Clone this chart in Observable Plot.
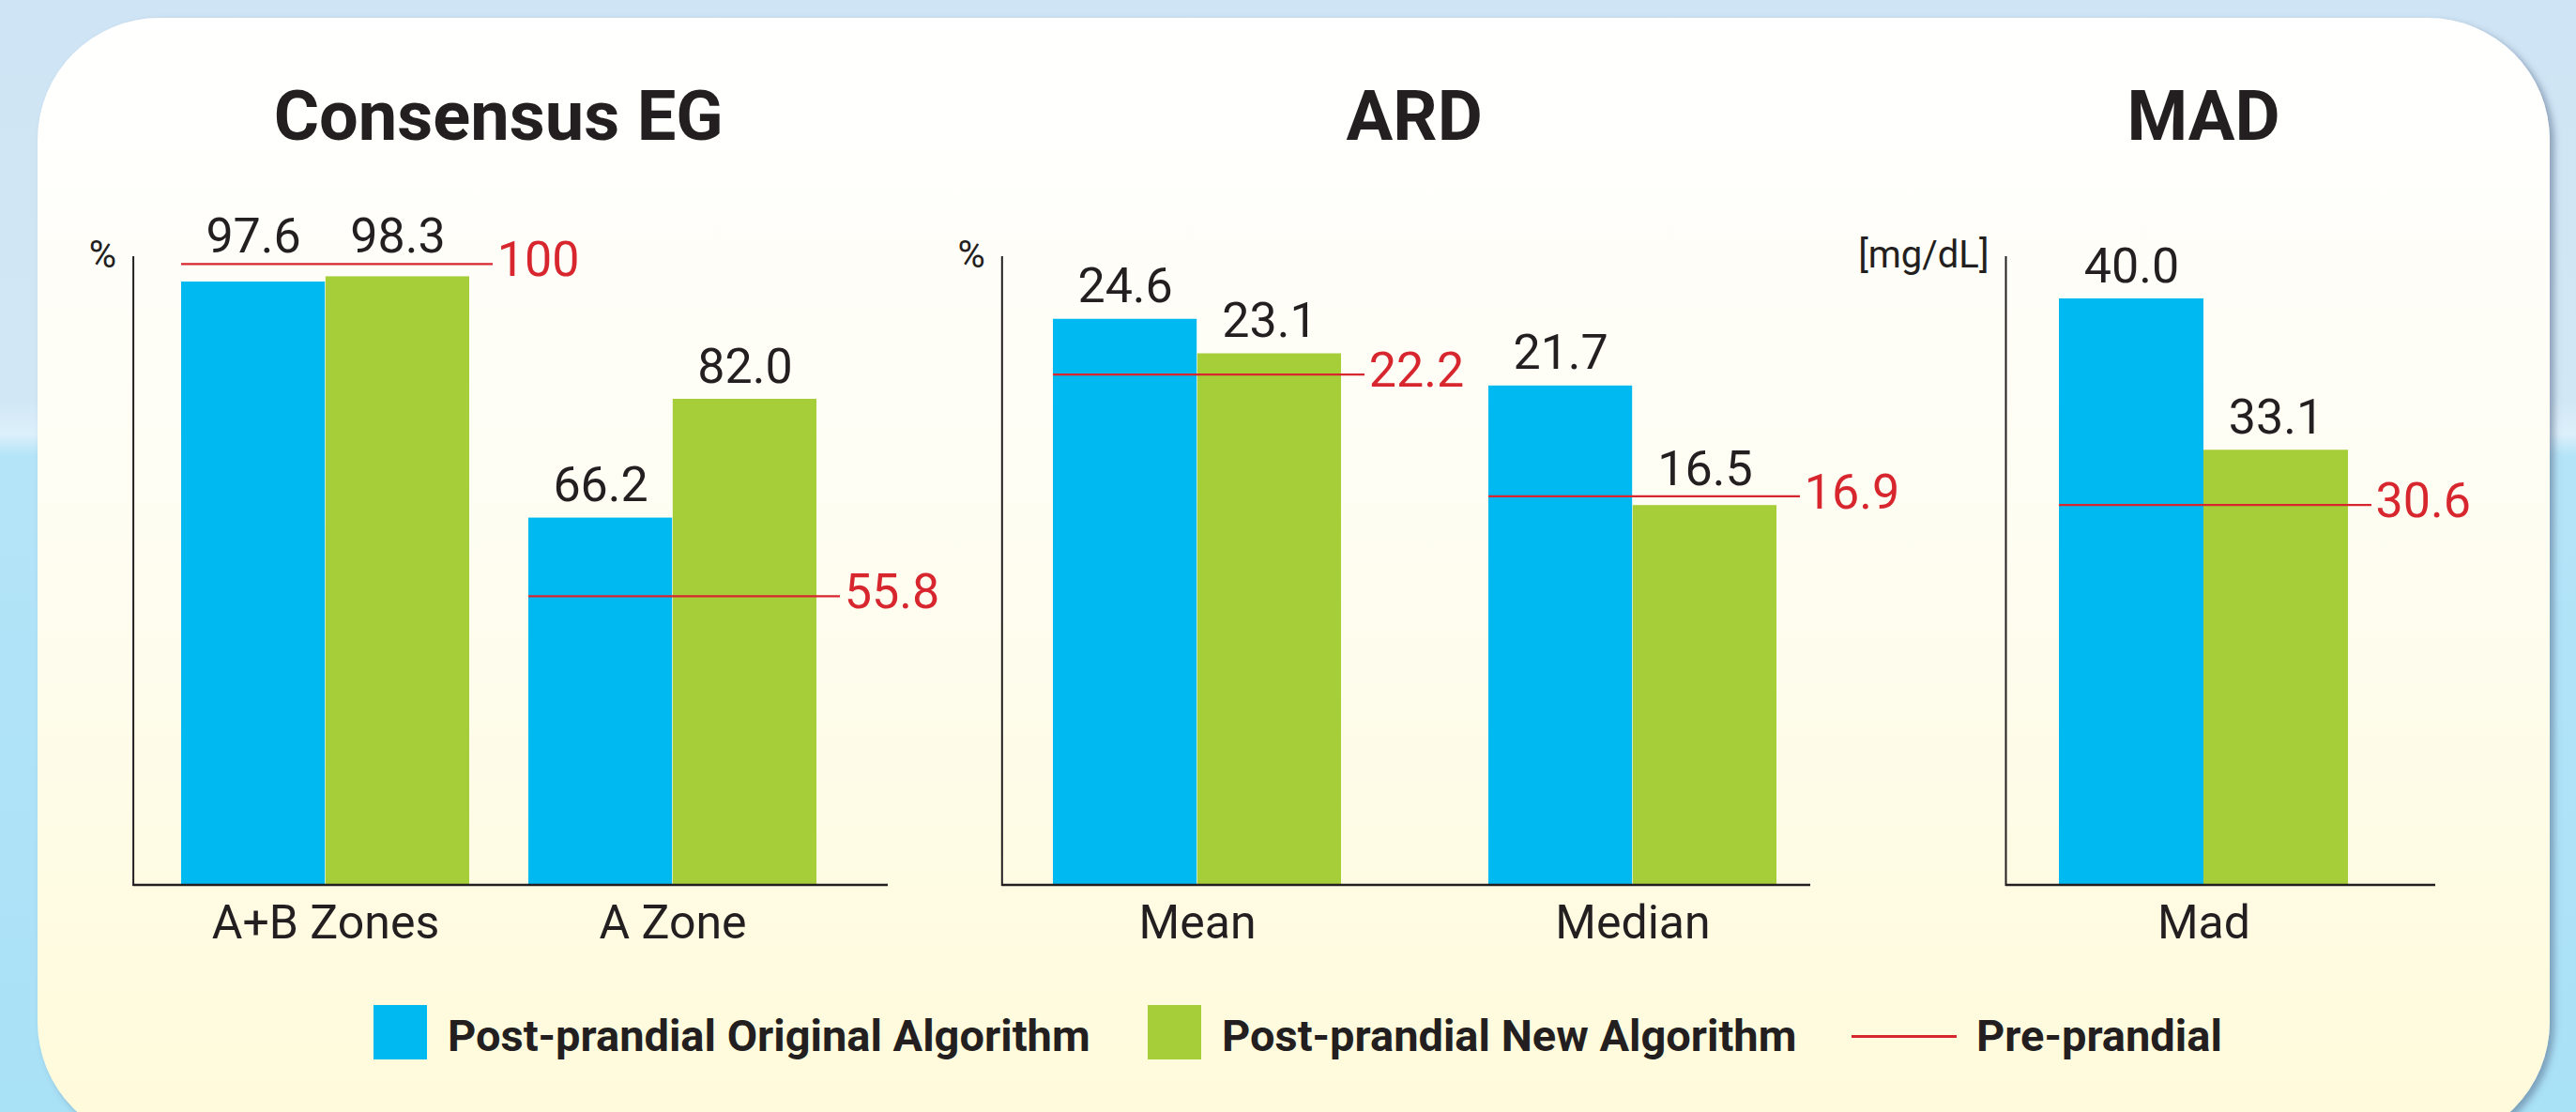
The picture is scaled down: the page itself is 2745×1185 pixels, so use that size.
<!DOCTYPE html>
<html>
<head>
<meta charset="utf-8">
<script src="https://cdn.jsdelivr.net/npm/d3@7"></script>
<script src="https://cdn.jsdelivr.net/npm/@observablehq/plot@0.6"></script>
<style>
  html, body { margin: 0; padding: 0; }
  body {
    width: 2745px; height: 1185px; overflow: hidden; position: relative;
    background: linear-gradient(to bottom, #cfe4f4 0%, #d2e7f5 36%, #dcf0fb 39%, #b4e4f8 41%, #a9e1f6 100%);
    font-family: Roboto, "Noto Sans", sans-serif;
    color: #231f20;
  }
  #card {
    position: absolute; left: 40px; top: 19px; width: 2677px; height: 1200px;
    border-radius: 130px;
    background: linear-gradient(to bottom, #ffffff 0%, #fefdf2 45%, #fffad9 100%);
    box-shadow: 5px 4px 7px rgba(90, 110, 140, 0.55);
  }
  .panel { position: absolute; top: 200px; }
  .title {
    position: absolute; width: 700px; text-align: center;
    font-weight: 700; font-size: 74px; line-height: 74px; top: 87px;
    white-space: nowrap;
  }
  .swatch { position: absolute; width: 57px; height: 58px; top: 1071px; }
  .ltext {
    position: absolute; top: 1080px; font-weight: 700; font-size: 47px; line-height: 47px;
    white-space: nowrap;
  }
  .lline { position: absolute; top: 1103px; height: 3px; width: 112px; }
</style>
</head>
<body>
<div id="card"></div>
<div id="root"></div>
<script>
// ---- data ----
const seriesNames = ["Post-prandial Original Algorithm", "Post-prandial New Algorithm", "Pre-prandial"];
const seriesColors = ["#00b9f0", "#a6ce39", "#d7262e"];

const panelTitles = ["Consensus EG", "ARD", "MAD"];
const panelUnits = ["%", "%", "[mg/dL]"];

const egCategories = ["A+B Zones", "A Zone"];
const egOriginal = [97.6, 66.2];
const egNew = [98.3, 82.0];
const egPre = [100, 55.8];

const ardCategories = ["Mean", "Median"];
const ardOriginal = [24.6, 21.7];
const ardNew = [23.1, 16.5];
const ardPre = [22.2, 16.9];

const madCategories = ["Mad"];
const madOriginal = [40.0];
const madNew = [33.1];
const madPre = [30.6];

// ---- layout ----
const textColor = "#231f20";
const H = 820;
const panels = [
  {title: panelTitles[0], unit: panelUnits[0], cats: egCategories, orig: egOriginal, neu: egNew, pre: egPre,
   left: 0, width: 1000, mL: 141.6, mR: 54, yDomain: [17.4, 100.9], pi: 0.17, po: 0.17, align: 0.4},
  {title: panelTitles[1], unit: panelUnits[1], cats: ardCategories, orig: ardOriginal, neu: ardNew, pre: ardPre,
   left: 1000, width: 1090, mL: 67.3, mR: 161, yDomain: [0, 27.3], pi: 0.3376, po: 0.0965, align: 0.6},
  {title: panelTitles[2], unit: panelUnits[2], cats: madCategories, orig: madOriginal, neu: madNew, pre: madPre,
   left: 1960, width: 785, mL: 177, mR: 150, yDomain: [13.28, 41.9], pi: 0, po: 0.2435, align: 0.38}
];
const mT = 73.6, mB = 77.5;
const fmt = v => v >= 100 ? String(v) : v.toFixed(1);

const root = document.getElementById("root");

for (const p of panels) {
  const data = p.cats.map((c, i) => ({cat: c, orig: p.orig[i], neu: p.neu[i], pre: p.pre[i]}));
  const band = d3.scaleBand().domain(p.cats).range([p.mL, p.width - p.mR])
    .paddingInner(p.pi).paddingOuter(p.po).align(p.align);
  const bw = band.bandwidth();
  const y0 = p.yDomain[0];

  const chart = Plot.plot({
    width: p.width, height: H,
    marginTop: mT, marginBottom: mB, marginLeft: p.mL, marginRight: p.mR,
    x: {domain: p.cats, paddingInner: p.pi, paddingOuter: p.po, align: p.align, axis: null},
    y: {domain: p.yDomain, axis: null},
    style: {background: "transparent", overflow: "visible", fontFamily: "Roboto, 'Noto Sans', sans-serif", fontWeight: 400, color: textColor},
    marks: [
      Plot.barY(data, {x: "cat", y1: y0, y2: "orig", fill: seriesColors[0], insetRight: bw / 2}),
      Plot.barY(data, {x: "cat", y1: y0, y2: "neu", fill: seriesColors[1], insetLeft: bw / 2}),
      Plot.tickY(data, {x: "cat", y: "pre", stroke: seriesColors[2], strokeWidth: 2.2, insetRight: -25}),
      // value labels (orig)
      Plot.text(data, {filter: d => !(d.pre > d.orig), x: "cat", y: "orig", text: d => fmt(d.orig), dx: -bw / 4, dy: -18,
        lineAnchor: "bottom", fontSize: 52, fill: textColor}),
      Plot.text(data, {filter: d => d.pre > d.orig, x: "cat", y: "pre", text: d => fmt(d.orig), dx: -bw / 4, dy: -12,
        lineAnchor: "bottom", fontSize: 52, fill: textColor}),
      // value labels (new)
      Plot.text(data, {filter: d => !(d.pre > d.neu), x: "cat", y: "neu", text: d => fmt(d.neu), dx: bw / 4, dy: -18,
        lineAnchor: "bottom", fontSize: 52, fill: textColor}),
      Plot.text(data, {filter: d => d.pre > d.neu, x: "cat", y: "pre", text: d => fmt(d.neu), dx: bw / 4, dy: -12,
        lineAnchor: "bottom", fontSize: 52, fill: textColor}),
      // pre-prandial labels
      Plot.text(data, {x: "cat", y: "pre", text: d => fmt(d.pre), dx: bw / 2 + 29, dy: -4,
        textAnchor: "start", lineAnchor: "middle", fontSize: 52, fill: seriesColors[2]}),
      // unit label
      Plot.text([p.unit], {frameAnchor: "top-left", text: d => d, textAnchor: "end", lineAnchor: "bottom",
        dx: -18, dy: 11, fontSize: 40, fill: textColor}),
      // axes
      Plot.axisX({tickSize: 0, tickPadding: 21, fontSize: 50, fill: textColor, label: null}),
      Plot.frame({anchor: "left", stroke: textColor, strokeWidth: 2}),
      Plot.ruleY([y0], {stroke: textColor, strokeWidth: 2.4})
    ]
  });
  const wrap = document.createElement("div");
  wrap.className = "panel";
  wrap.style.left = p.left + "px";
  wrap.appendChild(chart);
  root.appendChild(wrap);

  // title centred over the bar groups
  const first = band(p.cats[0]), last = band(p.cats[p.cats.length - 1]) + bw;
  const center = p.left + (first + last) / 2;
  const t = document.createElement("div");
  t.className = "title";
  t.textContent = p.title;
  t.style.left = (center - 350) + "px";
  root.appendChild(t);
}

// ---- legend ----
const legendItems = [
  {kind: "swatch", left: 398, textLeft: 477},
  {kind: "swatch", left: 1223, textLeft: 1302},
  {kind: "line", left: 1973, textLeft: 2106}
];
legendItems.forEach((it, i) => {
  const m = document.createElement("div");
  m.className = it.kind === "swatch" ? "swatch" : "lline";
  m.style.left = it.left + "px";
  m.style.background = seriesColors[i];
  root.appendChild(m);
  const t = document.createElement("div");
  t.className = "ltext";
  t.style.left = it.textLeft + "px";
  t.textContent = seriesNames[i];
  root.appendChild(t);
});
</script>
</body>
</html>
